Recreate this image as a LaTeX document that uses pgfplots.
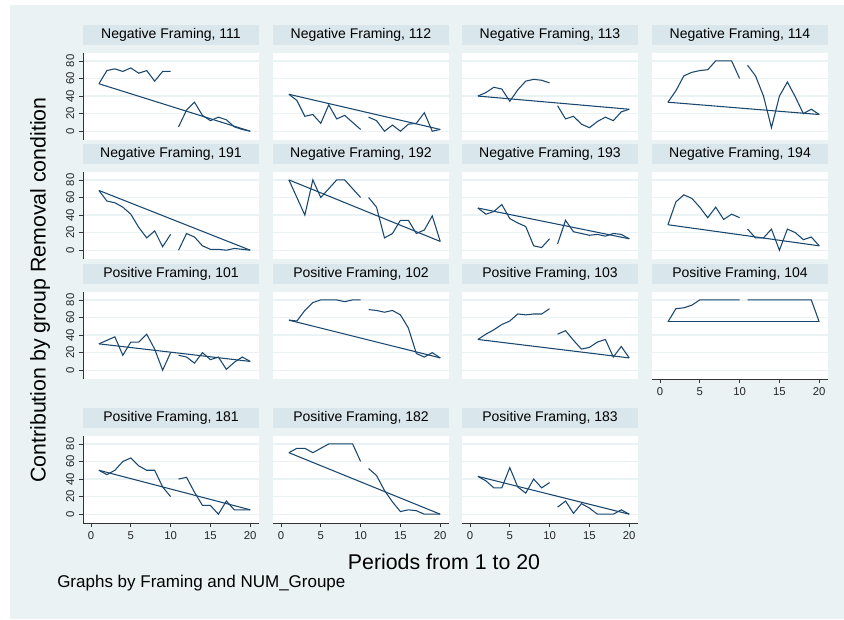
\documentclass[border=0pt]{standalone}
\usepackage{pgfplots}
\pgfplotsset{compat=1.18}
\usepackage{fontspec}
\setmainfont{Liberation Sans}
\definecolor{bgcol}{RGB}{234,242,243}
\definecolor{stripcol}{RGB}{217,230,235}
\definecolor{gridcol}{RGB}{234,242,243}
\definecolor{navyc}{RGB}{26,71,111}
\pgfplotsset{
 panel/.style={
  scale only axis, width=132pt, height=65.25pt, anchor=north west,
  xmin=-1, xmax=21.1, ymin=-10, ymax=89,
  ytick={0,20,40,60,80}, xtick={0,5,10,15,20},
  ymajorgrids, grid style={gridcol, line width=0.9pt},
  axis x line*=bottom, axis y line*=left,
  x axis line style={draw=none}, y axis line style={draw=none},
  xticklabels={}, yticklabels={},
  xtick style={draw=none}, ytick style={draw=none},
  tick align=outside, major tick length=3pt,
  axis background/.style={fill=white},
  every axis plot post/.append style={draw=navyc, line width=0.8pt, mark=none},
  title style={at={(0.5,1)}, anchor=south, fill=stripcol, minimum width=132pt,
   minimum height=15pt, inner sep=0pt, font=\fontsize{10.5}{12}\selectfont, yshift=0pt},
  /pgf/number format/assume math mode=true,
  ticklabel style={font=\fontsize{8.5}{10}\selectfont, text=black!85},
 },
 yax/.style={y axis line style={draw=black!80, line width=0.6pt},
  ytick style={draw=black!80, line width=0.6pt},
  yticklabels={0,20,40,60,80}, yticklabel style={rotate=90, anchor=south}},
 xax/.style={x axis line style={draw=black!80, line width=0.6pt},
  xtick style={draw=black!80, line width=0.6pt},
  xticklabels={0,5,10,15,20}},
}
\begin{document}
\begin{tikzpicture}
\fill[white] (0,0) rectangle (633pt,-464.25pt);
\fill[bgcol] (7.5pt,-3.75pt) rectangle (633pt,-464.25pt);

% Row 1
\begin{axis}[panel, yax, at={(62.25pt,-39.75pt)}, title={Negative Framing, 111}]
\addplot coordinates {(1,54)(2,69)(3,71)(4,68)(5,72)(6,66)(7,69)(8,57)(9,68)(10,68)};
\addplot coordinates {(11,5)(12,24)(13,33)(14,18)(15,12)(16,16)(17,13)(18,5)(19,2)(20,0)};
\addplot coordinates {(1,54)(20,0)};
\end{axis}
\begin{axis}[panel, at={(204.75pt,-39.75pt)}, title={Negative Framing, 112}]
\addplot coordinates {(1,42)(2,35)(3,17)(4,19)(5,9)(6,30)(7,14)(8,18)(9,10)(10,2)};
\addplot coordinates {(11,16)(12,12)(13,0)(14,7)(15,0)(16,8)(17,9)(18,21)(19,0)(20,2)};
\addplot coordinates {(1,42)(20,2)};
\end{axis}
\begin{axis}[panel, at={(346.5pt,-39.75pt)}, title={Negative Framing, 113}]
\addplot coordinates {(1,40)(2,44)(3,50)(4,48)(5,34)(6,47)(7,57)(8,59)(9,58)(10,55)};
\addplot coordinates {(11,29)(12,14)(13,17)(14,8)(15,4)(16,11)(17,16)(18,12)(19,22)(20,25)};
\addplot coordinates {(1,40)(20,25)};
\end{axis}
\begin{axis}[panel, at={(489pt,-39.75pt)}, title={Negative Framing, 114}]
\addplot coordinates {(1,33)(2,46)(3,63)(4,67)(5,69)(6,70)(7,80)(8,80)(9,80)(10,60)};
\addplot coordinates {(11,75)(12,63)(13,40)(14,4)(15,40)(16,56)(17,39)(18,20)(19,25)(20,19)};
\addplot coordinates {(1,33)(20,19)};
\end{axis}

% Row 2
\begin{axis}[panel, yax, at={(62.25pt,-129pt)}, title={Negative Framing, 191}]
\addplot coordinates {(1,68)(2,56)(3,54)(4,49)(5,41)(6,26)(7,14)(8,22)(9,4)(10,18)};
\addplot coordinates {(11,0)(12,19)(13,15)(14,5)(15,1)(16,1)(17,0)(18,2)(19,1)(20,0)};
\addplot coordinates {(1,68)(20,0)};
\end{axis}
\begin{axis}[panel, at={(204.75pt,-129pt)}, title={Negative Framing, 192}]
\addplot coordinates {(1,80)(2,60)(3,40)(4,80)(5,60)(6,70)(7,80)(8,80)(9,70)(10,60)};
\addplot coordinates {(11,60)(12,49)(13,14)(14,19)(15,34)(16,34)(17,19)(18,23)(19,39)(20,10)};
\addplot coordinates {(1,80)(20,10)};
\end{axis}
\begin{axis}[panel, at={(346.5pt,-129pt)}, title={Negative Framing, 193}]
\addplot coordinates {(1,48)(2,41)(3,44)(4,52)(5,36)(6,31)(7,27)(8,5)(9,3)(10,13)};
\addplot coordinates {(11,7)(12,34)(13,21)(14,19)(15,17)(16,18)(17,16)(18,19)(19,18)(20,13)};
\addplot coordinates {(1,48)(20,13)};
\end{axis}
\begin{axis}[panel, at={(489pt,-129pt)}, title={Negative Framing, 194}]
\addplot coordinates {(1,29)(2,55)(3,63)(4,59)(5,49)(6,37)(7,49)(8,35)(9,41)(10,37)};
\addplot coordinates {(11,24)(12,14)(13,14)(14,24)(15,0)(16,24)(17,20)(18,12)(19,15)(20,5)};
\addplot coordinates {(1,29)(20,5)};
\end{axis}

% Row 3
\begin{axis}[panel, yax, at={(62.25pt,-219pt)}, title={Positive Framing, 101}]
\addplot coordinates {(1,30)(2,34)(3,38)(4,17)(5,32)(6,32)(7,41)(8,24)(9,0)(10,20)};
\addplot coordinates {(11,17)(12,15)(13,8)(14,20)(15,12)(16,15)(17,1)(18,9)(19,15)(20,10)};
\addplot coordinates {(1,30)(20,10)};
\end{axis}
\begin{axis}[panel, at={(204.75pt,-219pt)}, title={Positive Framing, 102}]
\addplot coordinates {(1,57)(2,56)(3,68)(4,77)(5,80)(6,80)(7,80)(8,78)(9,80)(10,80)};
\addplot coordinates {(11,69)(12,68)(13,66)(14,68)(15,63)(16,48)(17,19)(18,15)(19,20)(20,14)};
\addplot coordinates {(1,57)(20,14)};
\end{axis}
\begin{axis}[panel, at={(346.5pt,-219pt)}, title={Positive Framing, 103}]
\addplot coordinates {(1,35)(2,41)(3,46)(4,52)(5,56)(6,64)(7,63)(8,64)(9,64)(10,70)};
\addplot coordinates {(11,41)(12,45)(13,34)(14,24)(15,26)(16,32)(17,35)(18,15)(19,27)(20,14)};
\addplot coordinates {(1,35)(20,14)};
\end{axis}
\begin{axis}[panel, xax, at={(489pt,-219pt)}, title={Positive Framing, 104}]
\addplot coordinates {(1,55)(2,70)(3,71)(4,74)(5,80)(6,80)(7,80)(8,80)(9,80)(10,80)};
\addplot coordinates {(11,80)(12,80)(13,80)(14,80)(15,80)(16,80)(17,80)(18,80)(19,80)(20,55)};
\addplot coordinates {(1,55)(20,55)};
\end{axis}

% Row 4
\begin{axis}[panel, yax, xax, at={(62.25pt,-327pt)}, title={Positive Framing, 181}]
\addplot coordinates {(1,50)(2,45)(3,50)(4,60)(5,64)(6,55)(7,50)(8,50)(9,31)(10,20)};
\addplot coordinates {(11,40)(12,42)(13,25)(14,10)(15,10)(16,0)(17,15)(18,5)(19,5)(20,5)};
\addplot coordinates {(1,50)(20,5)};
\end{axis}
\begin{axis}[panel, xax, at={(204.75pt,-327pt)}, title={Positive Framing, 182}]
\addplot coordinates {(1,70)(2,75)(3,75)(4,70)(5,75)(6,80)(7,80)(8,80)(9,80)(10,60)};
\addplot coordinates {(11,52)(12,44)(13,27)(14,14)(15,3)(16,5)(17,4)(18,0)(19,0)(20,0)};
\addplot coordinates {(1,70)(20,0)};
\end{axis}
\begin{axis}[panel, xax, at={(346.5pt,-327pt)}, title={Positive Framing, 183}]
\addplot coordinates {(1,43)(2,38)(3,30)(4,30)(5,53)(6,31)(7,24)(8,40)(9,30)(10,36)};
\addplot coordinates {(11,8)(12,15)(13,1)(14,12)(15,7)(16,0)(17,0)(18,0)(19,5)(20,0)};
\addplot coordinates {(1,43)(20,0)};
\end{axis}

\node[font=\fontsize{16}{19}\selectfont] at (333pt,-421.5pt) {Periods from 1 to 20};
\node[font=\fontsize{16}{19}\selectfont, rotate=90] at (30pt,-217.5pt) {Contribution by group Removal condition};
\node[font=\fontsize{12.75}{15}\selectfont, anchor=west, inner sep=0pt] at (42.75pt,-437.25pt) {Graphs by Framing and NUM\_Groupe};
\end{tikzpicture}
\end{document}
